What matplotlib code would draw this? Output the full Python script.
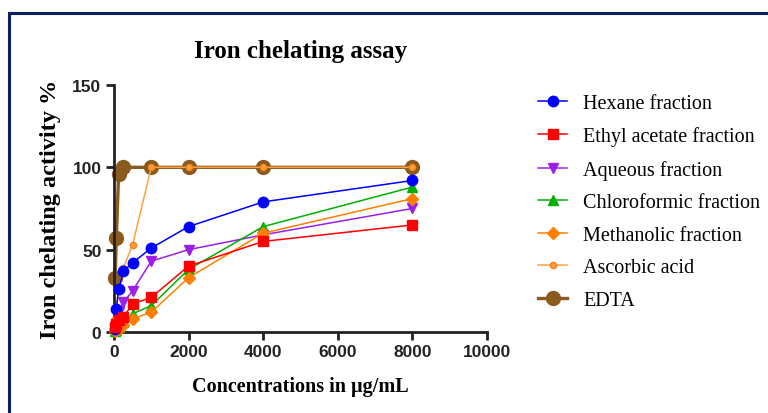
import matplotlib.pyplot as plt
from matplotlib.patches import Rectangle

# concentrations (ug/mL)
conc = [31.25, 62.5, 125, 250, 500, 1000, 2000, 4000, 8000]
conc_edta = [31.25, 62.5, 125, 250, 1000, 2000, 4000, 8000]

hexane = [2, 14, 26, 37, 42, 51, 64, 79, 92]
ethyl_acetate = [3, 5, 7, 9, 17, 21, 40, 55, 65]
aqueous = [3, 5, 12, 18, 25, 43, 50, 59, 75]
chloroformic = [0.5, 1, 3, 6, 11, 16, 38, 64, 88]
methanolic = [0.5, 1, 2, 4, 8, 12, 33, 60, 81]
ascorbic = [8, 15, 25, 39, 53, 100, 100, 100, 100]
edta = [33, 57, 96, 100, 100, 100, 100, 100]

plt.rcParams['font.family'] = 'Liberation Sans'

fig = plt.figure(figsize=(7.68, 4.14), dpi=100)
ax = fig.add_axes([0.1484, 0.1957, 0.4857, 0.5966])

ax.plot(conc_edta, edta, color='#8B5A1E', marker='o', markersize=10, lw=2.4,
        label='EDTA', clip_on=False, zorder=2)
ax.plot(conc, hexane, color='#0000FF', marker='o', markersize=7.5, lw=1.1,
        label='Hexane fraction', clip_on=False, zorder=4)
ax.plot(conc, ethyl_acetate, color='#FF0000', marker='s', markersize=7.5, lw=1.1,
        label='Ethyl acetate fraction', clip_on=False, zorder=4)
ax.plot(conc, aqueous, color='#9B1FE8', marker='v', markersize=7.5, lw=1.1,
        label='Aqueous fraction', clip_on=False, zorder=3)
ax.plot(conc, chloroformic, color='#00B000', marker='^', markersize=7.5, lw=1.1,
        label='Chloroformic fraction', clip_on=False, zorder=3)
ax.plot(conc, methanolic, color='#FF8000', marker='D', markersize=6, lw=1.1,
        label='Methanolic fraction', clip_on=False, zorder=3)
ax.plot(conc, ascorbic, color='#FFA040', marker='o', markersize=4.5, lw=1.1,
        markerfacecolor='#FFA040', markeredgecolor='#F08020',
        label='Ascorbic acid', clip_on=False, zorder=3)

ax.set_xlim(0, 10000)
ax.set_ylim(0, 150)
ax.set_xticks([0, 2000, 4000, 6000, 8000, 10000])
ax.set_yticks([0, 50, 100, 150])
for s in ['top', 'right']:
    ax.spines[s].set_visible(False)
for s in ['left', 'bottom']:
    ax.spines[s].set_linewidth(2)
    ax.spines[s].set_color('#222222')
ax.tick_params(direction='out', length=6, width=2, color='#222222',
               labelsize=12.5, pad=3)
for lab in ax.get_xticklabels() + ax.get_yticklabels():
    lab.set_fontweight('bold')
    lab.set_color('#222222')

serif = {'family': 'Liberation Serif', 'weight': 'bold'}
ax.set_title('Iron chelating assay', fontdict=serif, fontsize=18, pad=20)
ax.set_xlabel('Concentrations in µg/mL', fontdict=serif, fontsize=14.5, labelpad=12)
ax.set_ylabel('Iron chelating activity %', fontdict=serif, fontsize=17.5, labelpad=8)

handles, labels = ax.get_legend_handles_labels()
order = [1, 2, 3, 4, 5, 6, 0]
fig.legend([handles[i] for i in order], [labels[i] for i in order],
           loc='upper left', bbox_to_anchor=(0.677, 0.815), frameon=False,
           prop={'family': 'Liberation Serif', 'size': 14.5},
           handlelength=1.45, labelspacing=0.67, handletextpad=0.78)

fig.add_artist(Rectangle((8.5 / 768, -0.2), 1.5, 1.2 - 13.5 / 414, fill=False,
                         edgecolor='#0A2060', linewidth=2.2,
                         transform=fig.transFigure, clip_on=False))

fig.savefig('out.png', dpi=100)
